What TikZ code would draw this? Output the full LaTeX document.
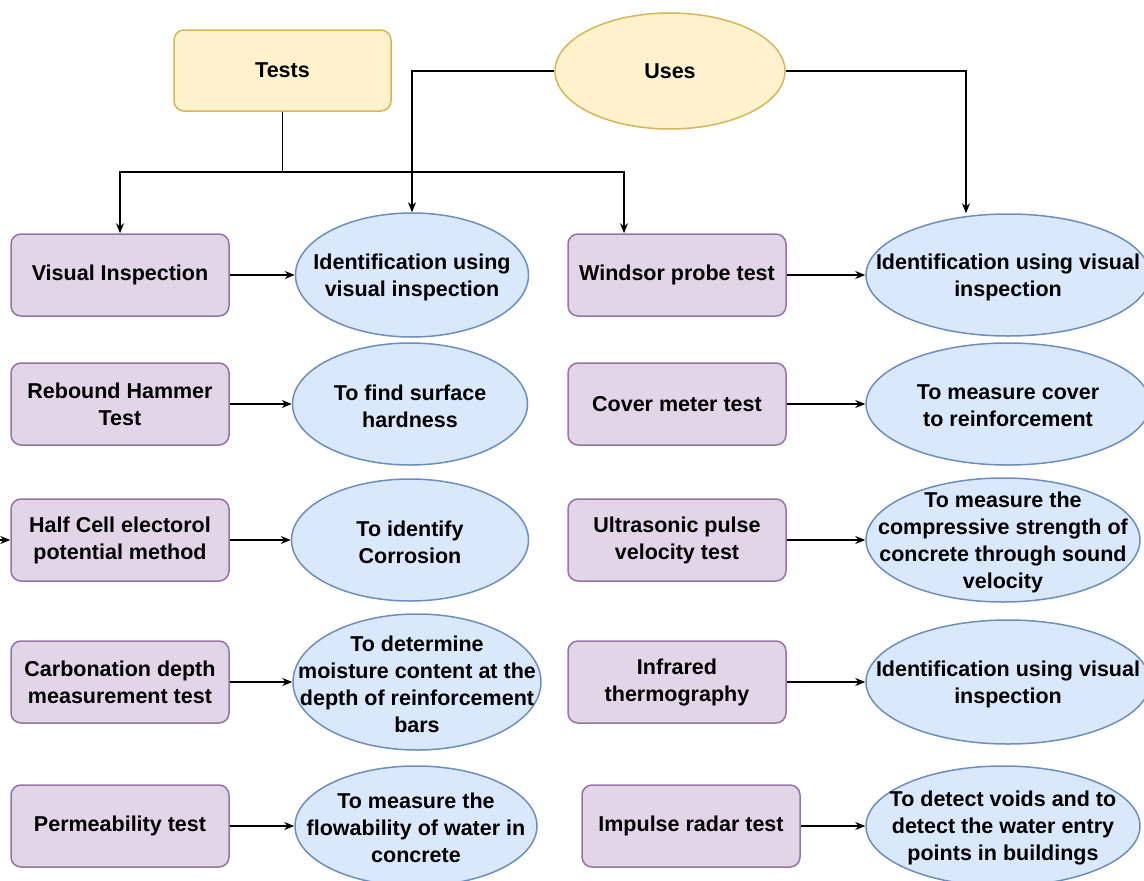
\documentclass[tikz,border=0pt]{standalone}
\usepackage{fontspec}
\setmainfont{Liberation Sans}
\usetikzlibrary{arrows.meta,shapes.geometric,positioning}
\definecolor{TestFill}{HTML}{E1D5E7}
\definecolor{TestLine}{HTML}{9673A6}
\definecolor{UseFill}{HTML}{DAE8FC}
\definecolor{UseLine}{HTML}{6C8EBF}
\definecolor{HeadFill}{HTML}{FFF2CC}
\definecolor{HeadLine}{HTML}{D6B656}

\begin{document}
\begin{tikzpicture}[%
    x=1pt, y=-1pt,%
    font=\bfseries\fontsize{21.5}{27}\selectfont,%
    test/.style={draw=TestLine, fill=TestFill, line width=1.5pt, rounded corners=10pt,%
      minimum width=218pt, minimum height=82pt, inner sep=0pt, align=center},%
    use/.style={ellipse, draw=UseLine, fill=UseFill, line width=1.5pt, inner sep=0pt},%
    usetext/.style={align=center, inner sep=0pt, yshift=-2pt},%
    link/.style={-{Stealth[length=10pt,width=8pt]}, line width=1.2pt}%
  ]
  \useasboundingbox (0,0) rectangle (1144,881);%
  \clip (0,0) rectangle (1144,881);%

  %
  % Heads
  %
  \node[draw=HeadLine, fill=HeadFill, line width=1.5pt, rounded corners=10pt,%
    minimum width=217pt, minimum height=81pt] (tests) at (282.5,70.5) {Tests};%
  \node[ellipse, draw=HeadLine, fill=HeadFill, line width=1.5pt,%
    minimum width=230pt, minimum height=116pt] (uses) at (670,71) {Uses};%

  %
  % Tests
  %
  \foreach \n/\x/\y/\t in {vi/120/275/{Visual Inspection},%
      rh/120/404/{Rebound Hammer\\Test},%
      hc/120/540/{Half Cell electorol\\potential method},%
      cd/120/682/{Carbonation depth\\measurement test},%
      pt/120/826/{Permeability test},%
      wp/677/275/{Windsor probe test},%
      cm/677/404/{Cover meter test},%
      up/677/540/{Ultrasonic pulse\\velocity test},%
      it/677/682/{Infrared\\thermography},%
      ir/691/826/{Impulse radar test}} {%
      \node[test] (\n) at (\x,\y) {\t};%
    }%

  %
  % Uses
  %
  \node[use, minimum width=233pt, minimum height=124pt,%
    label={[usetext]center:Identification using\\visual inspection}] (vie) at (412,275) {};%
  \node[use, minimum width=235pt, minimum height=122pt,%
    label={[usetext]center:To find surface\\hardness}] (rhe) at (410,404) {};%
  \node[use, minimum width=237pt, minimum height=122pt,%
    label={[usetext]center:To identify\\Corrosion}] (hce) at (410,540) {};%
  \node[use, minimum width=248pt, minimum height=136pt,%
    label={[usetext]center:To determine\\moisture content at the\\depth of reinforcement\\bars}] (cde) at (417,682) {};%
  \node[use, minimum width=242pt, minimum height=120pt,%
    label={[usetext]center:To measure the\\flowability of water in\\concrete}] (pte) at (416,826) {};%

  \node[use, minimum width=284pt, minimum height=122pt,%
    label={[usetext]center:Identification using visual\\inspection}] (wpe) at (1008,275) {};%
  \node[use, minimum width=284pt, minimum height=122pt,%
    label={[usetext]center:To measure cover\\to reinforcement}] (cme) at (1008,404) {};%
  \node[use, minimum width=274pt, minimum height=124pt,%
    label={[usetext]center:To measure the\\compressive strength of\\concrete through sound\\velocity}] (upe) at (1003,540) {};%
  \node[use, minimum width=284pt, minimum height=124pt,%
    label={[usetext]center:Identification using visual\\inspection}] (ite) at (1008,682) {};%
  \node[use, minimum width=274pt, minimum height=120pt,%
    label={[usetext]center:To detect voids and to\\detect the water entry\\points in buildings}] (ire) at (1003,826) {};%

  %
  % Links
  %
  \coordinate (split) at (282.5,172);%
  \draw[link] (tests.south) -- (split) -| (vi.north);%
  \draw[link] (split) -| ([xshift=-53pt]wp.north);%
  \draw[link] (uses.west) -| (vie.north);%
  \draw[link] (uses.east) -| ([xshift=-42pt]wpe.north);%

  \foreach \a/\b in {vi/vie,rh/rhe,hc/hce,cd/cde,pt/pte,wp/wpe,cm/cme,up/upe,it/ite,ir/ire} {%
      \draw[link] (\a.east) -- (\b.west);%
    }%

  \coordinate (stub) at (0,540);%
  \draw[link] (stub) -- (hc.west);%
\end{tikzpicture}
\end{document}
